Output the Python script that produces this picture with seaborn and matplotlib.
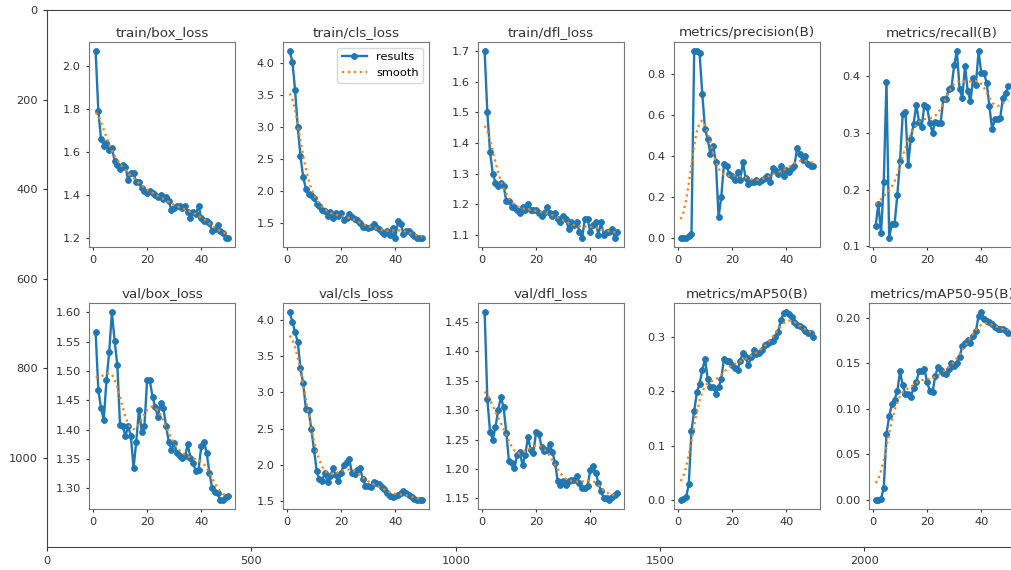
import numpy as np
import matplotlib
matplotlib.use("Agg")
import matplotlib.pyplot as plt
from matplotlib.ticker import MultipleLocator
import seaborn as sns

# values (50 epochs)
epochs = np.arange(1, 51)

titles = ['train/box_loss', 'train/cls_loss', 'train/dfl_loss', 'metrics/precision(B)', 'metrics/recall(B)',
          'val/box_loss', 'val/cls_loss', 'val/dfl_loss', 'metrics/mAP50(B)', 'metrics/mAP50-95(B)']

train_box_loss = [2.07, 1.79, 1.66, 1.63, 1.64, 1.61, 1.62, 1.56, 1.54, 1.52,
                  1.54, 1.53, 1.47, 1.50, 1.50, 1.46, 1.46, 1.43, 1.42, 1.41,
                  1.42, 1.41, 1.40, 1.39, 1.40, 1.38, 1.39, 1.37, 1.33, 1.34,
                  1.35, 1.35, 1.34, 1.35, 1.32, 1.29, 1.32, 1.31, 1.35, 1.29,
                  1.28, 1.28, 1.27, 1.23, 1.24, 1.26, 1.23, 1.22, 1.20, 1.20]
train_cls_loss = [4.19, 4.03, 3.59, 3.00, 2.55, 2.22, 2.04, 1.96, 1.94, 1.89,
                  1.80, 1.76, 1.71, 1.69, 1.61, 1.68, 1.58, 1.65, 1.61, 1.65,
                  1.55, 1.58, 1.64, 1.60, 1.57, 1.54, 1.50, 1.43, 1.44, 1.42,
                  1.44, 1.49, 1.43, 1.40, 1.36, 1.33, 1.38, 1.31, 1.42, 1.27,
                  1.53, 1.49, 1.33, 1.37, 1.37, 1.33, 1.30, 1.27, 1.27, 1.27]
train_dfl_loss = [1.70, 1.50, 1.37, 1.30, 1.27, 1.26, 1.27, 1.26, 1.21, 1.21,
                  1.19, 1.19, 1.18, 1.17, 1.19, 1.18, 1.20, 1.18, 1.18, 1.18,
                  1.17, 1.16, 1.17, 1.19, 1.17, 1.16, 1.17, 1.15, 1.14, 1.16,
                  1.15, 1.12, 1.14, 1.13, 1.14, 1.11, 1.09, 1.15, 1.15, 1.11,
                  1.13, 1.14, 1.10, 1.14, 1.10, 1.11, 1.11, 1.12, 1.09, 1.11]
precision = [0.00, 0.00, 0.00, 0.01, 0.02, 0.91, 0.91, 0.90, 0.70, 0.53,
             0.48, 0.41, 0.45, 0.37, 0.10, 0.20, 0.36, 0.35, 0.31, 0.30,
             0.28, 0.32, 0.28, 0.37, 0.29, 0.26, 0.27, 0.27, 0.28, 0.27,
             0.28, 0.29, 0.30, 0.27, 0.34, 0.33, 0.31, 0.35, 0.30, 0.33,
             0.32, 0.34, 0.35, 0.44, 0.41, 0.38, 0.40, 0.36, 0.35, 0.35]
recall = [0.135, 0.175, 0.123, 0.213, 0.390, 0.115, 0.140, 0.140, 0.190, 0.250,
          0.333, 0.337, 0.243, 0.290, 0.315, 0.350, 0.320, 0.310, 0.350, 0.345,
          0.318, 0.300, 0.320, 0.318, 0.318, 0.360, 0.360, 0.377, 0.380, 0.420,
          0.444, 0.377, 0.362, 0.418, 0.374, 0.356, 0.397, 0.385, 0.444, 0.406,
          0.406, 0.388, 0.347, 0.306, 0.324, 0.324, 0.327, 0.362, 0.370, 0.382]
val_box_loss = [1.566, 1.467, 1.437, 1.417, 1.484, 1.532, 1.600, 1.552, 1.511, 1.408,
                1.406, 1.389, 1.407, 1.389, 1.335, 1.380, 1.434, 1.397, 1.406, 1.484,
                1.484, 1.456, 1.439, 1.422, 1.445, 1.437, 1.406, 1.380, 1.366, 1.377,
                1.360, 1.355, 1.352, 1.355, 1.375, 1.352, 1.343, 1.329, 1.332, 1.372,
                1.380, 1.360, 1.327, 1.301, 1.294, 1.292, 1.281, 1.281, 1.285, 1.288]
val_cls_loss = [4.10, 3.97, 3.83, 3.69, 3.33, 3.12, 2.77, 2.76, 2.49, 2.21,
                1.91, 1.80, 1.78, 1.89, 1.76, 1.84, 1.95, 1.86, 1.77, 1.89,
                2.00, 2.04, 2.08, 1.89, 1.88, 1.93, 1.95, 1.81, 1.71, 1.71,
                1.70, 1.76, 1.75, 1.74, 1.70, 1.66, 1.61, 1.57, 1.55, 1.57,
                1.58, 1.61, 1.64, 1.61, 1.58, 1.55, 1.53, 1.52, 1.52, 1.52]
val_dfl_loss = [1.466, 1.319, 1.263, 1.250, 1.271, 1.300, 1.322, 1.305, 1.261, 1.213,
                1.211, 1.201, 1.224, 1.229, 1.206, 1.224, 1.255, 1.232, 1.228, 1.263,
                1.260, 1.238, 1.230, 1.232, 1.242, 1.229, 1.211, 1.179, 1.173, 1.179,
                1.173, 1.180, 1.181, 1.181, 1.188, 1.176, 1.167, 1.167, 1.171, 1.198,
                1.205, 1.194, 1.176, 1.162, 1.150, 1.150, 1.148, 1.153, 1.156, 1.159]
map50 = [0.000, 0.001, 0.004, 0.028, 0.127, 0.164, 0.198, 0.214, 0.239, 0.260,
         0.223, 0.208, 0.208, 0.196, 0.208, 0.223, 0.260, 0.257, 0.257, 0.248,
         0.244, 0.240, 0.257, 0.271, 0.263, 0.249, 0.263, 0.276, 0.269, 0.271,
         0.277, 0.285, 0.287, 0.291, 0.294, 0.300, 0.310, 0.331, 0.344, 0.346,
         0.343, 0.337, 0.329, 0.323, 0.320, 0.317, 0.312, 0.307, 0.307, 0.301]
map50_95 = [0.000, 0.000, 0.001, 0.013, 0.072, 0.092, 0.105, 0.110, 0.119, 0.141,
            0.126, 0.116, 0.116, 0.113, 0.123, 0.129, 0.141, 0.141, 0.144, 0.129,
            0.120, 0.118, 0.136, 0.146, 0.143, 0.139, 0.138, 0.144, 0.150, 0.147,
            0.150, 0.157, 0.169, 0.172, 0.176, 0.172, 0.180, 0.185, 0.202, 0.206,
            0.199, 0.196, 0.195, 0.193, 0.190, 0.188, 0.188, 0.188, 0.185, 0.183]

series = [train_box_loss, train_cls_loss, train_dfl_loss, precision, recall,
          val_box_loss, val_cls_loss, val_dfl_loss, map50, map50_95]

# panels whose y ticks are coarser in the reference
ytick_step = {'metrics/recall(B)': 0.1, 'metrics/mAP50(B)': 0.1}


def smooth(y, sigma=3):
    # gaussian smoothing like gaussian_filter1d (reflect mode)
    r = int(4 * sigma + 0.5)
    k = np.exp(-0.5 * (np.arange(-r, r + 1) / sigma) ** 2)
    k /= k.sum()
    return np.convolve(np.pad(np.asarray(y, float), r, mode='symmetric'), k, mode='valid')


W, H = 1012, 570
fig = plt.figure(figsize=(W / 100, H / 100), dpi=100)
txt = '#333333'

# outer axes: the picture's pixel frame
outer = fig.add_axes([47 / W, (H - 547) / H, 980.6 / W, 537 / H])
outer.set_xlim(-0.5, 2399.5)
outer.set_ylim(1199.5, -0.5)
outer.set_xticks(range(0, 2001, 500))
outer.set_yticks(range(0, 1001, 200))
outer.tick_params(labelsize=8.2, colors=txt, length=3)
for s in outer.spines.values():
    s.set_color('#444444')

lefts = [89, 283, 478, 674, 869]
rows = [(42, 247), (303, 509)]
for i, (title, y) in enumerate(zip(titles, series)):
    top, bot = rows[i // 5]
    ax = fig.add_axes([lefts[i % 5] / W, (H - bot) / H, 146 / W, (bot - top) / H])
    sns.lineplot(x=epochs, y=y, ax=ax, marker='.', markersize=8.5, linewidth=1.7,
                 color='#1f77b4', markeredgecolor='#1f77b4', markeredgewidth=0.6,
                 label='results', legend=False)
    sns.lineplot(x=epochs, y=smooth(y), ax=ax, linestyle=':', linewidth=1.6,
                 color='#ff7f0e', label='smooth', legend=False)
    ax.set(xlabel='', ylabel='')
    ax.set_xticks([0, 20, 40])
    if title in ytick_step:
        ax.yaxis.set_major_locator(MultipleLocator(ytick_step[title]))
    ax.set_title(title, fontsize=9.7, color=txt, pad=4)
    ax.tick_params(labelsize=8.2, colors=txt, length=2.5)
    for s in ax.spines.values():
        s.set_color('#777777')
    if i == 1:
        ax.legend(fontsize=8.2, loc='upper right', handlelength=2.2)

fig.savefig('out.png', dpi=100)
